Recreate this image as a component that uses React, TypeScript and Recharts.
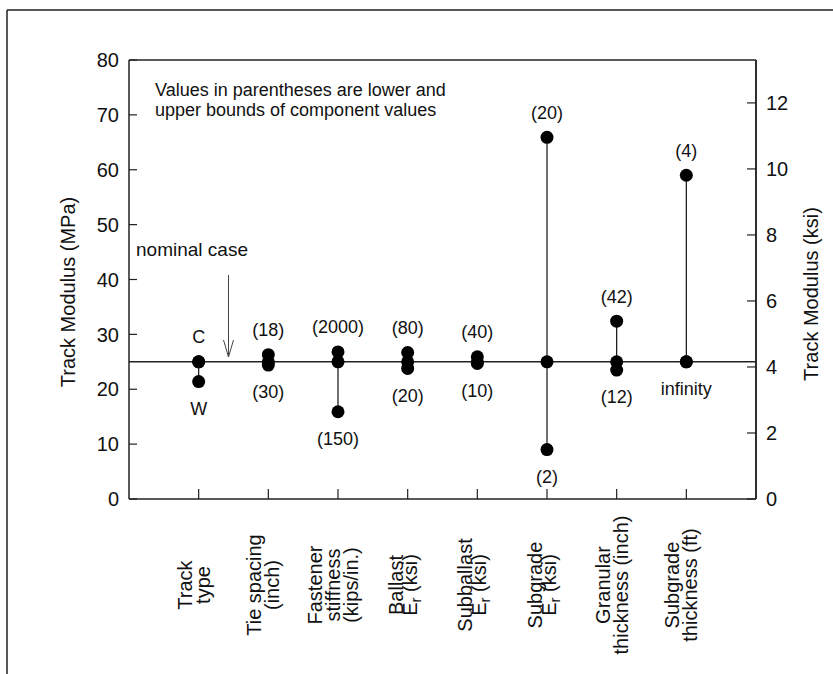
import { ScatterChart, Scatter, XAxis, YAxis, ReferenceLine } from "recharts";

// component groups along the x axis (one per tick, positions 1..8)
const categoryLines = [
  ["Track", "type"],
  ["Tie spacing", "(inch)"],
  ["Fastener", "stiffness", "(kips/in.)"],
  ["Ballast", "E_r (ksi)"],
  ["Subballast", "E_r (ksi)"],
  ["Subgrade", "E_r (ksi)"],
  ["Granular", "thickness (inch)"],
  ["Subgrade", "thickness (ft)"],
];

// track modulus in MPa
const NOMINAL = 25;
const upperValues = [25, 26.3, 26.8, 26.7, 25.9, 65.9, 32.4, 59.0];
const lowerValues = [21.4, 24.4, 15.9, 23.8, 24.7, 9.0, 23.5, 25];
const upperLabels = ["C", "(18)", "(2000)", "(80)", "(40)", "(20)", "(42)", "(4)"];
const lowerLabels = ["W", "(30)", "(150)", "(20)", "(10)", "(2)", "(12)", "infinity"];

const mpaTicks = [0, 10, 20, 30, 40, 50, 60, 70, 80];
const ksiTicks = [0, 2, 4, 6, 8, 10, 12];
const KSI_MAX = 13.3;

const upperPts = categoryLines.map((_, i) => ({ x: i + 1, y: upperValues[i], label: upperLabels[i] }));
const lowerPts = categoryLines.map((_, i) => ({ x: i + 1, y: lowerValues[i], label: lowerLabels[i] }));
const nominalPts = categoryLines.map((_, i) => ({ x: i + 1, y: NOMINAL, label: "" }));

const FONT = "'Liberation Sans', Arial, Helvetica, sans-serif";
const INK = "#111";
const AXIS = "#222";
const GAP = 10; // tick label distance from the axis line

function dot(where: "above" | "below" | "none") {
  return (p: any) => {
    const { cx, cy, payload } = p;
    const ty = where === "above" ? cy - 25 + 6.3 : cy + 27 + 6.3;
    return (
      <g>
        <circle cx={cx} cy={cy} r={6.5} fill="#000" />
        {where !== "none" && (
          <text x={cx} y={ty} textAnchor="middle" fontSize={18} fill={INK} fontFamily={FONT}>
            {payload.label}
          </text>
        )}
      </g>
    );
  };
}

// inward ticks drawn by hand, labels outside
function LeftTick(props: any) {
  const { x, y, payload } = props;
  const ax = x + GAP;
  return (
    <g>
      <line x1={ax} x2={ax + 8} y1={y} y2={y} stroke={AXIS} strokeWidth={1.2} />
      <text x={x} y={y} dy="0.36em" textAnchor="end" fontSize={20} fill={INK} fontFamily={FONT}>
        {payload.value}
      </text>
    </g>
  );
}

function RightTick(props: any) {
  const { x, y, payload } = props;
  const ax = x - GAP;
  return (
    <g>
      <line x1={ax - 9} x2={ax} y1={y} y2={y} stroke={AXIS} strokeWidth={1.2} />
      <text x={x} y={y} dy="0.36em" textAnchor="start" fontSize={20} fill={INK} fontFamily={FONT}>
        {payload.value}
      </text>
    </g>
  );
}

function CategoryTick(props: any) {
  const { x, y, payload } = props;
  const lines = categoryLines[payload.value - 1];
  if (!lines) return null;
  const ay = y - GAP;
  const cy = ay + 86;
  const sub = lines.some((l) => l.startsWith("E_r"));
  const gap = sub ? 14 : 18;
  return (
    <g>
      <line x1={x} x2={x} y1={ay - 10} y2={ay} stroke={AXIS} strokeWidth={1.2} />
      {lines.map((line, i) => {
        const bx = x + 2 + (i - (lines.length - 1) / 2) * gap;
        return (
          <text
            key={i}
            x={bx}
            y={cy}
            transform={`rotate(-90 ${bx} ${cy})`}
            textAnchor="middle"
            fontSize={20}
            fill={INK}
            fontFamily={FONT}
          >
            {line.startsWith("E_r") ? (
              <>
                <tspan>E</tspan>
                <tspan dy={4} fontSize={15}>r</tspan>
                <tspan dy={-4}>{line.slice(3)}</tspan>
              </>
            ) : (
              line
            )}
          </text>
        );
      })}
    </g>
  );
}

export default function App() {
  return (
    <div
      style={{
        position: "absolute",
        left: 0,
        top: 0,
        width: 833,
        height: 674,
        background: "#fff",
        fontFamily: FONT,
      }}
    >
      <ScatterChart width={833} height={674} margin={{ top: 60, right: 0, bottom: 0, left: 0 }}>
        <XAxis
          type="number"
          dataKey="x"
          domain={[0, 9]}
          ticks={[1, 2, 3, 4, 5, 6, 7, 8]}
          interval={0}
          height={175}
          tickSize={0}
          tickMargin={GAP}
          axisLine={{ stroke: AXIS, strokeWidth: 1.5 }}
          tickLine={false}
          tick={<CategoryTick />}
        />
        <YAxis
          yAxisId="mpa"
          type="number"
          dataKey="y"
          orientation="left"
          width={129}
          domain={[0, 80]}
          ticks={mpaTicks}
          interval={0}
          tickSize={0}
          tickMargin={GAP}
          axisLine={{ stroke: AXIS, strokeWidth: 1.5 }}
          tickLine={false}
          tick={<LeftTick />}
        />
        <YAxis
          yAxisId="ksi"
          type="number"
          dataKey="y"
          orientation="right"
          width={77}
          domain={[0, KSI_MAX]}
          allowDataOverflow
          ticks={ksiTicks}
          interval={0}
          tickSize={0}
          tickMargin={GAP}
          axisLine={{ stroke: AXIS, strokeWidth: 1.5 }}
          tickLine={false}
          tick={<RightTick />}
        />
        <ReferenceLine yAxisId="mpa" y={80} stroke={AXIS} strokeWidth={1.5} />
        <ReferenceLine yAxisId="mpa" x={9} stroke={AXIS} strokeWidth={1.5} />
        <ReferenceLine yAxisId="mpa" y={NOMINAL} stroke={AXIS} strokeWidth={1.5} />
        {categoryLines.map((_, i) => (
          <ReferenceLine
            key={i}
            yAxisId="mpa"
            segment={[
              { x: i + 1, y: lowerValues[i] },
              { x: i + 1, y: upperValues[i] },
            ]}
            stroke={INK}
            strokeWidth={1.2}
          />
        ))}
        <Scatter yAxisId="mpa" data={nominalPts} isAnimationActive={false} shape={dot("none")} />
        <Scatter yAxisId="mpa" data={upperPts} isAnimationActive={false} shape={dot("above")} />
        <Scatter yAxisId="mpa" data={lowerPts} isAnimationActive={false} shape={dot("below")} />
      </ScatterChart>

      <svg
        width={833}
        height={674}
        style={{ position: "absolute", left: 0, top: 0, pointerEvents: "none" }}
      >
        <line x1={7} y1={10} x2={833} y2={10} stroke={AXIS} strokeWidth={1.5} />
        <line x1={7} y1={10} x2={7} y2={674} stroke={AXIS} strokeWidth={1.5} />
        <text
          x={75}
          y={292}
          transform="rotate(-90 75 292)"
          textAnchor="middle"
          fontSize={20}
          fill={INK}
          fontFamily={FONT}
        >
          Track Modulus (MPa)
        </text>
        <text
          x={818}
          y={294}
          transform="rotate(-90 818 294)"
          textAnchor="middle"
          fontSize={20}
          fill={INK}
          fontFamily={FONT}
        >
          Track Modulus (ksi)
        </text>
        <text x={155} y={96} fontSize={18} fill={INK} fontFamily={FONT}>
          Values in parentheses are lower and
        </text>
        <text x={155} y={116} fontSize={18} fill={INK} fontFamily={FONT}>
          upper bounds of component values
        </text>
        <text x={136} y={256} fontSize={19} fill={INK} fontFamily={FONT}>
          nominal case
        </text>
        <line x1={228.5} y1={275} x2={228.5} y2={357} stroke="#444" strokeWidth={1} />
        <polyline
          points="223.5,340 228.5,357 233.5,340"
          fill="none"
          stroke="#444"
          strokeWidth={1}
        />
      </svg>
    </div>
  );
}
